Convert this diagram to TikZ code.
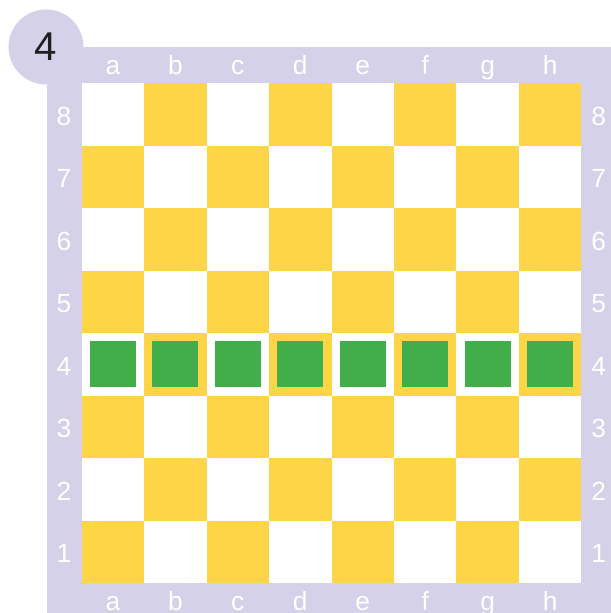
\documentclass[tikz,border=0pt]{standalone}
\usepackage{fontspec}
\setmainfont{Liberation Sans}
\usepackage{xcolor}
\usetikzlibrary{positioning}
\definecolor{frameLav}{HTML}{D4D1E8}
\definecolor{sqYellow}{HTML}{FFD548}
\definecolor{pawnGreen}{HTML}{41AE4A}
\definecolor{numDark}{HTML}{231F20}

\begin{document}
\begin{tikzpicture}[
  every node/.style={inner sep=0pt, outer sep=0pt},
  sq/.style={minimum size=1cm, anchor=south west},
  darksq/.style={sq, fill=sqYellow},
  lightsq/.style={sq, fill=white},
  pawnsq/.style={minimum size=0.736cm, fill=pawnGreen},
  coordlbl/.style={text=white, font=\fontsize{12}{12}\selectfont},
  badge/.style={circle, fill=frameLav, minimum size=1.2cm, text=numDark, font=\fontsize{18.3}{18}\selectfont},
]
\useasboundingbox (-1.307,-0.48) rectangle (8.469,9.333);
% Frame
\fill[frameLav] (-0.555,-0.48) rectangle (8.469,8.581);

% Board squares
\foreach \c [count=\i from 0] in {a,b,c,d,e,f,g,h} {
  \foreach \r in {1,...,8} {
    \ifodd\numexpr\i+\r\relax \def\sqstyle{darksq}\else\def\sqstyle{lightsq}\fi
    \node[\sqstyle] (sq-\c\r) at (\i,\r-1) {};
  }
}

% Pawns on rank 4
\foreach \c in {a,b,c,d,e,f,g,h}
  \node[pawnsq] (pawn-\c) at (sq-\c4.center) {};

% File letters
\foreach \c [count=\i from 0] in {a,b,c,d,e,f,g,h} {
  \node[coordlbl, anchor=base] (top-\c) at (\i+0.5,8.133) {\c};
  \node[coordlbl, anchor=base] (bot-\c) at (\i+0.5,-0.432) {\c};
}

% Rank numbers
\foreach \r in {1,...,8} {
  \node[coordlbl] (left-\r) at (-0.283,\r-0.53) {\r};
  \node[coordlbl] (right-\r) at (8.277,\r-0.53) {\r};
}

% Badge
\node[badge] (badge) at (-0.571,8.581) {4};
\end{tikzpicture}
\end{document}
